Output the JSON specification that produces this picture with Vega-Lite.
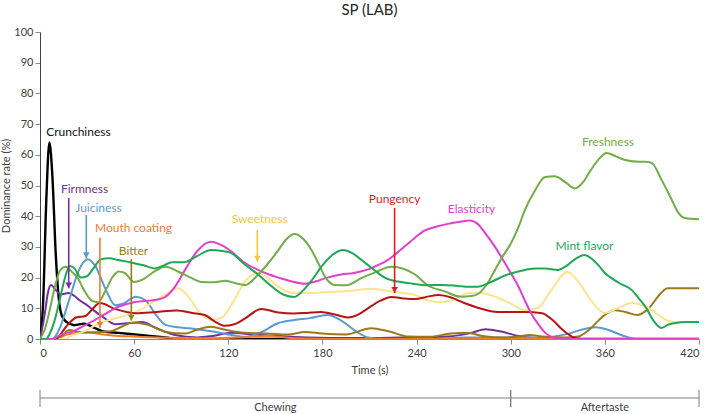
{
  "$schema": "https://vega.github.io/schema/vega-lite/v6.json",
  "padding": {"left": 0, "top": 3, "right": 0, "bottom": 0},
  "bounds": "flush",
  "spacing": 49,
  "config": {
    "view": {"stroke": null},
    "font": "Lato",
    "axis": {"grid": false, "labelFont": "Lato", "titleFont": "Lato", "labelFontSize": 11, "titleFontSize": 11, "labelColor": "#404040", "titleColor": "#404040", "titleFontWeight": "normal", "tickColor": "#8c8c8c", "tickSize": 5}
  },
  "datasets": {
    "curves": [
      {"s":"Crunchiness","t":0,"v":0},{"s":"Crunchiness","t":2,"v":12},{"s":"Crunchiness","t":4,"v":45},{"s":"Crunchiness","t":6,"v":64},{"s":"Crunchiness","t":8,"v":52},{"s":"Crunchiness","t":10,"v":28},{"s":"Crunchiness","t":12,"v":13},{"s":"Crunchiness","t":14,"v":7.5},{"s":"Crunchiness","t":17,"v":5.5},{"s":"Crunchiness","t":22,"v":4.5},{"s":"Crunchiness","t":28,"v":5},{"s":"Crunchiness","t":34,"v":3.8},{"s":"Crunchiness","t":40,"v":2.5},{"s":"Crunchiness","t":50,"v":2},{"s":"Crunchiness","t":60,"v":1.5},{"s":"Crunchiness","t":70,"v":1},{"s":"Crunchiness","t":80,"v":0.5},{"s":"Crunchiness","t":90,"v":0},{"s":"Crunchiness","t":200,"v":0},{"s":"Crunchiness","t":420,"v":0},

      {"s":"Firmness","t":0,"v":0},{"s":"Firmness","t":3,"v":8},{"s":"Firmness","t":5,"v":15},{"s":"Firmness","t":7,"v":17.6},{"s":"Firmness","t":10,"v":16},{"s":"Firmness","t":13,"v":14.5},{"s":"Firmness","t":18,"v":15},{"s":"Firmness","t":22,"v":14},{"s":"Firmness","t":25,"v":12.7},{"s":"Firmness","t":30,"v":11},{"s":"Firmness","t":34,"v":9.4},{"s":"Firmness","t":40,"v":7.2},{"s":"Firmness","t":48,"v":4.8},{"s":"Firmness","t":57,"v":5.2},{"s":"Firmness","t":65,"v":5.5},{"s":"Firmness","t":74,"v":3.6},{"s":"Firmness","t":86,"v":1.3},{"s":"Firmness","t":100,"v":0.5},{"s":"Firmness","t":110,"v":1},{"s":"Firmness","t":122,"v":2},{"s":"Firmness","t":135,"v":1.5},{"s":"Firmness","t":150,"v":1},{"s":"Firmness","t":170,"v":0.5},{"s":"Firmness","t":200,"v":0.3},{"s":"Firmness","t":230,"v":0.5},{"s":"Firmness","t":260,"v":0.8},{"s":"Firmness","t":275,"v":2},{"s":"Firmness","t":284,"v":3.2},{"s":"Firmness","t":293,"v":2.5},{"s":"Firmness","t":305,"v":1},{"s":"Firmness","t":315,"v":0.3},{"s":"Firmness","t":330,"v":0},{"s":"Firmness","t":420,"v":0},

      {"s":"Juiciness","t":0,"v":0},{"s":"Juiciness","t":8,"v":0},{"s":"Juiciness","t":10,"v":1},{"s":"Juiciness","t":13,"v":4},{"s":"Juiciness","t":16.5,"v":9.4},{"s":"Juiciness","t":20,"v":15},{"s":"Juiciness","t":23,"v":20},{"s":"Juiciness","t":27,"v":24.5},{"s":"Juiciness","t":30.5,"v":26},{"s":"Juiciness","t":35,"v":24},{"s":"Juiciness","t":42,"v":16},{"s":"Juiciness","t":48,"v":11},{"s":"Juiciness","t":53,"v":11.5},{"s":"Juiciness","t":61,"v":13.8},{"s":"Juiciness","t":67,"v":12.7},{"s":"Juiciness","t":74,"v":7.8},{"s":"Juiciness","t":80,"v":4.6},{"s":"Juiciness","t":88,"v":3.8},{"s":"Juiciness","t":95,"v":3.5},{"s":"Juiciness","t":109,"v":2.5},{"s":"Juiciness","t":120,"v":1.5},{"s":"Juiciness","t":131,"v":0.7},{"s":"Juiciness","t":140,"v":2},{"s":"Juiciness","t":152,"v":5.2},{"s":"Juiciness","t":162,"v":6.2},{"s":"Juiciness","t":172,"v":6.8},{"s":"Juiciness","t":183,"v":7.8},{"s":"Juiciness","t":192,"v":6},{"s":"Juiciness","t":200,"v":3},{"s":"Juiciness","t":209,"v":0.5},{"s":"Juiciness","t":220,"v":0},{"s":"Juiciness","t":250,"v":0},{"s":"Juiciness","t":270,"v":0.5},{"s":"Juiciness","t":300,"v":0.5},{"s":"Juiciness","t":320,"v":0.5},{"s":"Juiciness","t":335,"v":1.5},{"s":"Juiciness","t":345,"v":3},{"s":"Juiciness","t":354,"v":3.8},{"s":"Juiciness","t":362,"v":3},{"s":"Juiciness","t":372,"v":1},{"s":"Juiciness","t":380,"v":0},{"s":"Juiciness","t":420,"v":0},

      {"s":"Mouth coating","t":0,"v":0},{"s":"Mouth coating","t":8,"v":0},{"s":"Mouth coating","t":12,"v":0.5},{"s":"Mouth coating","t":18,"v":1.5},{"s":"Mouth coating","t":25,"v":2},{"s":"Mouth coating","t":32,"v":2},{"s":"Mouth coating","t":40,"v":1.5},{"s":"Mouth coating","t":50,"v":1},{"s":"Mouth coating","t":60,"v":0.8},{"s":"Mouth coating","t":75,"v":0.5},{"s":"Mouth coating","t":90,"v":0.3},{"s":"Mouth coating","t":110,"v":0.2},{"s":"Mouth coating","t":130,"v":0.6},{"s":"Mouth coating","t":145,"v":1},{"s":"Mouth coating","t":160,"v":0.3},{"s":"Mouth coating","t":180,"v":0},{"s":"Mouth coating","t":420,"v":0},

      {"s":"Bitter","t":0,"v":0},{"s":"Bitter","t":10,"v":0},{"s":"Bitter","t":14,"v":1},{"s":"Bitter","t":18.5,"v":2.9},{"s":"Bitter","t":25,"v":2.3},{"s":"Bitter","t":35,"v":2.2},{"s":"Bitter","t":45,"v":2.5},{"s":"Bitter","t":52,"v":4},{"s":"Bitter","t":59,"v":5.3},{"s":"Bitter","t":69,"v":4.6},{"s":"Bitter","t":80,"v":2.3},{"s":"Bitter","t":93,"v":1.8},{"s":"Bitter","t":100,"v":3},{"s":"Bitter","t":109,"v":4},{"s":"Bitter","t":118,"v":3},{"s":"Bitter","t":130,"v":2},{"s":"Bitter","t":145,"v":1.8},{"s":"Bitter","t":158,"v":1.5},{"s":"Bitter","t":169,"v":2.3},{"s":"Bitter","t":180,"v":1.8},{"s":"Bitter","t":195,"v":1.5},{"s":"Bitter","t":211,"v":3.5},{"s":"Bitter","t":222,"v":2.5},{"s":"Bitter","t":235,"v":0.8},{"s":"Bitter","t":248,"v":0.7},{"s":"Bitter","t":262,"v":1.8},{"s":"Bitter","t":272,"v":2},{"s":"Bitter","t":282,"v":1},{"s":"Bitter","t":295,"v":0.5},{"s":"Bitter","t":305,"v":0.8},{"s":"Bitter","t":312,"v":1.3},{"s":"Bitter","t":320,"v":0.8},{"s":"Bitter","t":335,"v":0.5},{"s":"Bitter","t":343,"v":0.8},{"s":"Bitter","t":350,"v":3},{"s":"Bitter","t":358,"v":7},{"s":"Bitter","t":366,"v":9.4},{"s":"Bitter","t":373,"v":8.8},{"s":"Bitter","t":381,"v":7.8},{"s":"Bitter","t":388,"v":10},{"s":"Bitter","t":395,"v":14.5},{"s":"Bitter","t":400,"v":16.5},{"s":"Bitter","t":410,"v":16.5},{"s":"Bitter","t":420,"v":16.5},

      {"s":"Sweetness","t":0,"v":0},{"s":"Sweetness","t":15,"v":0},{"s":"Sweetness","t":20,"v":1},{"s":"Sweetness","t":30,"v":3},{"s":"Sweetness","t":37,"v":5},{"s":"Sweetness","t":50,"v":7},{"s":"Sweetness","t":62,"v":9},{"s":"Sweetness","t":72,"v":12},{"s":"Sweetness","t":80,"v":14.5},{"s":"Sweetness","t":88,"v":16.5},{"s":"Sweetness","t":95,"v":13.5},{"s":"Sweetness","t":102,"v":8.5},{"s":"Sweetness","t":109,"v":6.2},{"s":"Sweetness","t":116,"v":7},{"s":"Sweetness","t":123,"v":12},{"s":"Sweetness","t":131,"v":19},{"s":"Sweetness","t":139,"v":21.5},{"s":"Sweetness","t":146,"v":19.5},{"s":"Sweetness","t":152,"v":17},{"s":"Sweetness","t":162,"v":15},{"s":"Sweetness","t":172,"v":15},{"s":"Sweetness","t":183,"v":15.3},{"s":"Sweetness","t":196,"v":15.6},{"s":"Sweetness","t":211,"v":16.4},{"s":"Sweetness","t":226,"v":15.3},{"s":"Sweetness","t":239,"v":14.3},{"s":"Sweetness","t":248,"v":12.5},{"s":"Sweetness","t":256,"v":12},{"s":"Sweetness","t":264,"v":13},{"s":"Sweetness","t":273,"v":15},{"s":"Sweetness","t":281,"v":15},{"s":"Sweetness","t":292,"v":13.4},{"s":"Sweetness","t":300,"v":11.5},{"s":"Sweetness","t":309,"v":9.4},{"s":"Sweetness","t":317,"v":10},{"s":"Sweetness","t":326,"v":16},{"s":"Sweetness","t":336,"v":21.8},{"s":"Sweetness","t":344,"v":18},{"s":"Sweetness","t":351,"v":12.7},{"s":"Sweetness","t":360,"v":8.5},{"s":"Sweetness","t":368,"v":10},{"s":"Sweetness","t":377,"v":11.7},{"s":"Sweetness","t":384,"v":11},{"s":"Sweetness","t":390,"v":9.4},{"s":"Sweetness","t":398,"v":6.5},{"s":"Sweetness","t":405,"v":5.5},{"s":"Sweetness","t":412,"v":5.5},{"s":"Sweetness","t":420,"v":5.5},

      {"s":"Pungency","t":0,"v":0},{"s":"Pungency","t":10,"v":0},{"s":"Pungency","t":16.6,"v":4},{"s":"Pungency","t":23,"v":7},{"s":"Pungency","t":29,"v":7.5},{"s":"Pungency","t":33,"v":9.5},{"s":"Pungency","t":38,"v":11.7},{"s":"Pungency","t":48,"v":9.8},{"s":"Pungency","t":61,"v":8.4},{"s":"Pungency","t":74,"v":8.8},{"s":"Pungency","t":87,"v":9.3},{"s":"Pungency","t":97,"v":8.5},{"s":"Pungency","t":105,"v":7.8},{"s":"Pungency","t":112,"v":5.5},{"s":"Pungency","t":118,"v":4.3},{"s":"Pungency","t":125,"v":5},{"s":"Pungency","t":131,"v":6.8},{"s":"Pungency","t":141,"v":9.8},{"s":"Pungency","t":152,"v":8.6},{"s":"Pungency","t":162,"v":8.3},{"s":"Pungency","t":170,"v":8.5},{"s":"Pungency","t":179,"v":8.8},{"s":"Pungency","t":188,"v":8},{"s":"Pungency","t":196,"v":7},{"s":"Pungency","t":203,"v":8},{"s":"Pungency","t":209,"v":10},{"s":"Pungency","t":217,"v":12.5},{"s":"Pungency","t":224,"v":13.7},{"s":"Pungency","t":232,"v":13.2},{"s":"Pungency","t":239,"v":13},{"s":"Pungency","t":247,"v":13.8},{"s":"Pungency","t":254,"v":14.3},{"s":"Pungency","t":262,"v":13.5},{"s":"Pungency","t":270,"v":11.8},{"s":"Pungency","t":279,"v":10.2},{"s":"Pungency","t":292,"v":8.8},{"s":"Pungency","t":309,"v":8.8},{"s":"Pungency","t":320,"v":8.4},{"s":"Pungency","t":327,"v":6},{"s":"Pungency","t":333,"v":3},{"s":"Pungency","t":339,"v":0.8},{"s":"Pungency","t":345,"v":0},{"s":"Pungency","t":420,"v":0},

      {"s":"Elasticity","t":0,"v":0},{"s":"Elasticity","t":8,"v":0},{"s":"Elasticity","t":12,"v":1},{"s":"Elasticity","t":17,"v":2},{"s":"Elasticity","t":20,"v":2.3},{"s":"Elasticity","t":25,"v":3.5},{"s":"Elasticity","t":30.6,"v":5},{"s":"Elasticity","t":36,"v":6.5},{"s":"Elasticity","t":41,"v":8},{"s":"Elasticity","t":46,"v":9.5},{"s":"Elasticity","t":50,"v":10.5},{"s":"Elasticity","t":60,"v":12},{"s":"Elasticity","t":70,"v":12.5},{"s":"Elasticity","t":79,"v":13.5},{"s":"Elasticity","t":86,"v":17},{"s":"Elasticity","t":93,"v":23},{"s":"Elasticity","t":100,"v":28.5},{"s":"Elasticity","t":109,"v":31.7},{"s":"Elasticity","t":116,"v":30.5},{"s":"Elasticity","t":122,"v":28.5},{"s":"Elasticity","t":130,"v":25},{"s":"Elasticity","t":139,"v":22.5},{"s":"Elasticity","t":146,"v":21},{"s":"Elasticity","t":152,"v":20},{"s":"Elasticity","t":160,"v":18.8},{"s":"Elasticity","t":169,"v":18},{"s":"Elasticity","t":176,"v":18.8},{"s":"Elasticity","t":183,"v":20},{"s":"Elasticity","t":192,"v":21},{"s":"Elasticity","t":200,"v":21.5},{"s":"Elasticity","t":208,"v":22.5},{"s":"Elasticity","t":215,"v":24},{"s":"Elasticity","t":221,"v":25.5},{"s":"Elasticity","t":226,"v":27.4},{"s":"Elasticity","t":232,"v":30},{"s":"Elasticity","t":239,"v":33},{"s":"Elasticity","t":245,"v":35.3},{"s":"Elasticity","t":252,"v":36.5},{"s":"Elasticity","t":260,"v":37.5},{"s":"Elasticity","t":268,"v":38.2},{"s":"Elasticity","t":274,"v":38.6},{"s":"Elasticity","t":279,"v":37.5},{"s":"Elasticity","t":283,"v":35},{"s":"Elasticity","t":290,"v":30},{"s":"Elasticity","t":294,"v":26.7},{"s":"Elasticity","t":300,"v":21.5},{"s":"Elasticity","t":305,"v":17},{"s":"Elasticity","t":309,"v":12.5},{"s":"Elasticity","t":313,"v":8.4},{"s":"Elasticity","t":318,"v":4.5},{"s":"Elasticity","t":322,"v":2},{"s":"Elasticity","t":327,"v":0.5},{"s":"Elasticity","t":332,"v":0},{"s":"Elasticity","t":420,"v":0},

      {"s":"Freshness","t":0,"v":0},{"s":"Freshness","t":3,"v":3},{"s":"Freshness","t":6,"v":9},{"s":"Freshness","t":9.5,"v":17},{"s":"Freshness","t":13,"v":22.5},{"s":"Freshness","t":16.5,"v":23.5},{"s":"Freshness","t":20,"v":22},{"s":"Freshness","t":24,"v":19.9},{"s":"Freshness","t":28,"v":16},{"s":"Freshness","t":33,"v":12.5},{"s":"Freshness","t":37,"v":12},{"s":"Freshness","t":42,"v":16},{"s":"Freshness","t":46,"v":20},{"s":"Freshness","t":50,"v":22},{"s":"Freshness","t":54,"v":21.5},{"s":"Freshness","t":60,"v":18.6},{"s":"Freshness","t":66,"v":19.5},{"s":"Freshness","t":73,"v":22},{"s":"Freshness","t":80,"v":23.5},{"s":"Freshness","t":88,"v":22},{"s":"Freshness","t":96,"v":20},{"s":"Freshness","t":103,"v":18.6},{"s":"Freshness","t":111,"v":18.5},{"s":"Freshness","t":118,"v":19},{"s":"Freshness","t":126,"v":18},{"s":"Freshness","t":131,"v":17.6},{"s":"Freshness","t":139,"v":21},{"s":"Freshness","t":146,"v":25},{"s":"Freshness","t":152,"v":29},{"s":"Freshness","t":157,"v":32.5},{"s":"Freshness","t":162,"v":34.2},{"s":"Freshness","t":168,"v":32.5},{"s":"Freshness","t":173,"v":29},{"s":"Freshness","t":178,"v":24},{"s":"Freshness","t":182,"v":20},{"s":"Freshness","t":188,"v":17.6},{"s":"Freshness","t":195,"v":17.5},{"s":"Freshness","t":205,"v":19.9},{"s":"Freshness","t":214,"v":21.8},{"s":"Freshness","t":224,"v":23.5},{"s":"Freshness","t":232,"v":22.8},{"s":"Freshness","t":239,"v":21},{"s":"Freshness","t":247,"v":17.5},{"s":"Freshness","t":258,"v":15.5},{"s":"Freshness","t":268,"v":13.8},{"s":"Freshness","t":275,"v":14},{"s":"Freshness","t":280,"v":15},{"s":"Freshness","t":285,"v":18},{"s":"Freshness","t":290,"v":22.5},{"s":"Freshness","t":295,"v":27},{"s":"Freshness","t":300,"v":31},{"s":"Freshness","t":305,"v":36.5},{"s":"Freshness","t":309,"v":42},{"s":"Freshness","t":315,"v":48},{"s":"Freshness","t":322,"v":52.8},{"s":"Freshness","t":328,"v":53},{"s":"Freshness","t":335,"v":51},{"s":"Freshness","t":341,"v":49},{"s":"Freshness","t":346,"v":51},{"s":"Freshness","t":351,"v":55},{"s":"Freshness","t":356,"v":58.5},{"s":"Freshness","t":361,"v":60.6},{"s":"Freshness","t":367,"v":59.5},{"s":"Freshness","t":373,"v":58.3},{"s":"Freshness","t":382,"v":57.7},{"s":"Freshness","t":386,"v":57.7},{"s":"Freshness","t":390,"v":57.3},{"s":"Freshness","t":396,"v":52},{"s":"Freshness","t":402,"v":46},{"s":"Freshness","t":407,"v":41},{"s":"Freshness","t":411,"v":39.4},{"s":"Freshness","t":420,"v":39},

      {"s":"Mint flavor","t":0,"v":0},{"s":"Mint flavor","t":4,"v":0},{"s":"Mint flavor","t":6,"v":1.5},{"s":"Mint flavor","t":9,"v":5.5},{"s":"Mint flavor","t":11.5,"v":10.4},{"s":"Mint flavor","t":14,"v":16},{"s":"Mint flavor","t":16.5,"v":21},{"s":"Mint flavor","t":19,"v":23.8},{"s":"Mint flavor","t":22,"v":23},{"s":"Mint flavor","t":26,"v":20},{"s":"Mint flavor","t":30,"v":20.5},{"s":"Mint flavor","t":34,"v":23},{"s":"Mint flavor","t":39,"v":26},{"s":"Mint flavor","t":44,"v":26.3},{"s":"Mint flavor","t":50,"v":25.7},{"s":"Mint flavor","t":60,"v":24.7},{"s":"Mint flavor","t":66,"v":24},{"s":"Mint flavor","t":73,"v":23},{"s":"Mint flavor","t":79,"v":24},{"s":"Mint flavor","t":84,"v":25},{"s":"Mint flavor","t":92,"v":25},{"s":"Mint flavor","t":100,"v":27},{"s":"Mint flavor","t":109,"v":29},{"s":"Mint flavor","t":116,"v":28.7},{"s":"Mint flavor","t":122,"v":28},{"s":"Mint flavor","t":130,"v":24.5},{"s":"Mint flavor","t":139,"v":21},{"s":"Mint flavor","t":148,"v":17},{"s":"Mint flavor","t":155,"v":14.5},{"s":"Mint flavor","t":162,"v":13.7},{"s":"Mint flavor","t":168,"v":16},{"s":"Mint flavor","t":173,"v":19},{"s":"Mint flavor","t":180,"v":24},{"s":"Mint flavor","t":188,"v":28},{"s":"Mint flavor","t":193,"v":29},{"s":"Mint flavor","t":199,"v":28},{"s":"Mint flavor","t":205,"v":25.7},{"s":"Mint flavor","t":213,"v":22.5},{"s":"Mint flavor","t":220,"v":19.9},{"s":"Mint flavor","t":228,"v":18.7},{"s":"Mint flavor","t":235,"v":18.2},{"s":"Mint flavor","t":247,"v":17.5},{"s":"Mint flavor","t":256,"v":17.6},{"s":"Mint flavor","t":266,"v":17.3},{"s":"Mint flavor","t":273,"v":17},{"s":"Mint flavor","t":279,"v":17},{"s":"Mint flavor","t":287,"v":18.5},{"s":"Mint flavor","t":298,"v":21},{"s":"Mint flavor","t":309,"v":22.5},{"s":"Mint flavor","t":316,"v":23},{"s":"Mint flavor","t":322,"v":23},{"s":"Mint flavor","t":330,"v":22.5},{"s":"Mint flavor","t":336,"v":24},{"s":"Mint flavor","t":341,"v":26},{"s":"Mint flavor","t":347,"v":27.4},{"s":"Mint flavor","t":352,"v":26},{"s":"Mint flavor","t":356,"v":24},{"s":"Mint flavor","t":360,"v":21.5},{"s":"Mint flavor","t":364,"v":19.9},{"s":"Mint flavor","t":370,"v":18},{"s":"Mint flavor","t":377,"v":16},{"s":"Mint flavor","t":382,"v":13},{"s":"Mint flavor","t":386,"v":10.4},{"s":"Mint flavor","t":391,"v":6},{"s":"Mint flavor","t":396,"v":3.6},{"s":"Mint flavor","t":401,"v":4.8},{"s":"Mint flavor","t":405,"v":5.2},{"s":"Mint flavor","t":412,"v":5.5},{"s":"Mint flavor","t":420,"v":5.5}
    ],
    "labels": [
      {"s":"Crunchiness","t":24.5,"v":67.4},
      {"s":"Firmness","t":28.4,"v":48.9},
      {"s":"Juiciness","t":37.3,"v":42.7},
      {"s":"Mouth coating","t":59.6,"v":36.2},
      {"s":"Bitter","t":59.6,"v":28.7},
      {"s":"Sweetness","t":140,"v":39},
      {"s":"Pungency","t":226,"v":45.6},
      {"s":"Elasticity","t":275,"v":42.3},
      {"s":"Freshness","t":362,"v":64.2},
      {"s":"Mint flavor","t":347,"v":30.3}
    ],
    "arrows": [
      {"s":"Firmness","t":18.3,"from":45.9,"to":16.5},
      {"s":"Juiciness","t":29.5,"from":40.4,"to":26.3},
      {"s":"Mouth coating","t":38.2,"from":33,"to":3.6},
      {"s":"Bitter","t":58.2,"from":26,"to":6},
      {"s":"Sweetness","t":138.5,"from":35.5,"to":25.2},
      {"s":"Pungency","t":226,"from":42.7,"to":15}
    ],
    "phases": [
      {"phase":"Chewing","start":0,"end":300},
      {"phase":"Aftertaste","start":300,"end":420}
    ]
  },
  "vconcat": [
    {
      "width": 659,
      "height": 307,
      "title": {"text": "SP (LAB)", "fontSize": 15, "font": "Lato", "fontWeight": "normal", "color": "#262626", "offset": 8, "anchor": "middle"},
      "encoding": {
        "x": {"type": "quantitative", "scale": {"domain": [0, 420], "nice": false}, "axis": {"values": [0,60,120,180,240,300,360,420], "title": "Time (s)", "domainColor": "#8c8c8c", "labelPadding": 3, "titlePadding": 6}},
        "y": {"type": "quantitative", "scale": {"domain": [0, 100], "nice": false}, "axis": {"values": [0,10,20,30,40,50,60,70,80,90,100], "title": "Dominance rate (%)", "domainColor": "#404040", "labelPadding": 2, "titlePadding": 2}}
      },
      "resolve": {"scale": {"color": "independent"}},
      "layer": [
        {"mark": {"type": "rule", "color": "#a6a6a6", "strokeWidth": 2, "strokeDash": [6, 4]}, "encoding": {"y": {"datum": 10}}},
        {"mark": {"type": "rule", "color": "#595959", "strokeWidth": 1.5}, "encoding": {"y": {"datum": 21.5}}},
        {
          "data": {"name": "curves"},
          "mark": {"type": "line", "interpolate": "monotone", "clip": true},
          "encoding": {
            "x": {"field": "t", "type": "quantitative"},
            "y": {"field": "v", "type": "quantitative"},
            "color": {"field": "s", "type": "nominal", "legend": null, "scale": {"domain": ["Sweetness","Mouth coating","Juiciness","Bitter","Firmness","Pungency","Elasticity","Freshness","Mint flavor","Crunchiness"], "range": ["#ffe38f","#ed7d31","#5b9bd5","#9c7a1a","#7030a0","#b81414","#e33fcf","#72ad47","#1fa855","#000000"]}},
            "strokeWidth": {"condition": {"test": "datum.s === 'Crunchiness'", "value": 2.4}, "value": 2}
          }
        },
        {
          "layer": [
            {
              "data": {"name": "arrows"},
              "mark": {"type": "rule", "strokeWidth": 1.6},
              "encoding": {
                "x": {"field": "t", "type": "quantitative"},
                "y": {"field": "from", "type": "quantitative"},
                "y2": {"field": "to"},
                "color": {"field": "s", "type": "nominal", "legend": null}
              }
            },
            {
              "data": {"name": "arrows"},
              "mark": {"type": "point", "shape": "triangle-down", "filled": true, "opacity": 1, "size": 45, "yOffset": -3},
              "encoding": {
                "x": {"field": "t", "type": "quantitative"},
                "y": {"field": "to", "type": "quantitative"},
                "color": {"field": "s", "type": "nominal", "legend": null}
              }
            },
            {
              "data": {"name": "labels"},
              "mark": {"type": "text", "font": "Lato", "fontSize": 12, "fontWeight": "normal", "align": "center", "baseline": "middle"},
              "encoding": {
                "x": {"field": "t", "type": "quantitative"},
                "y": {"field": "v", "type": "quantitative"},
                "text": {"field": "s"},
                "color": {"field": "s", "type": "nominal", "legend": null, "scale": {"domain": ["Crunchiness","Firmness","Juiciness","Mouth coating","Bitter","Sweetness","Pungency","Elasticity","Freshness","Mint flavor"], "range": ["#111111","#7030a0","#5b9bd5","#ed7d31","#9c7a1a","#f2c744","#dc1e1e","#e33fcf","#72ad47","#1fa855"]}}
              }
            }
          ]
        }
      ]
    },
    {
      "width": 659,
      "height": 24,
      "data": {"name": "phases"},
      "transform": [{"calculate": "(datum.start + datum.end) / 2", "as": "mid"}],
      "encoding": {
        "x": {"type": "quantitative", "scale": {"domain": [0, 420], "nice": false}, "axis": null}
      },
      "layer": [
        {"mark": {"type": "rule", "color": "#7f7f7f", "strokeWidth": 1}, "encoding": {"x": {"field": "start", "type": "quantitative"}, "x2": {"field": "end"}, "y": {"datum": 0.583, "type": "quantitative", "scale": {"domain": [0, 1]}, "axis": null}}},
        {"mark": {"type": "rule", "color": "#7f7f7f", "strokeWidth": 1}, "encoding": {"x": {"field": "start", "type": "quantitative"}, "y": {"datum": 0.917, "type": "quantitative"}, "y2": {"datum": 0.208}}},
        {"mark": {"type": "rule", "color": "#7f7f7f", "strokeWidth": 1}, "encoding": {"x": {"field": "end", "type": "quantitative"}, "y": {"datum": 0.917, "type": "quantitative"}, "y2": {"datum": 0.208}}},
        {"mark": {"type": "text", "font": "Lato", "fontSize": 11, "color": "#404040", "baseline": "top", "align": "center"}, "encoding": {"x": {"field": "mid", "type": "quantitative"}, "y": {"datum": 0.42, "type": "quantitative"}, "text": {"field": "phase"}}}
      ]
    }
  ]
}
